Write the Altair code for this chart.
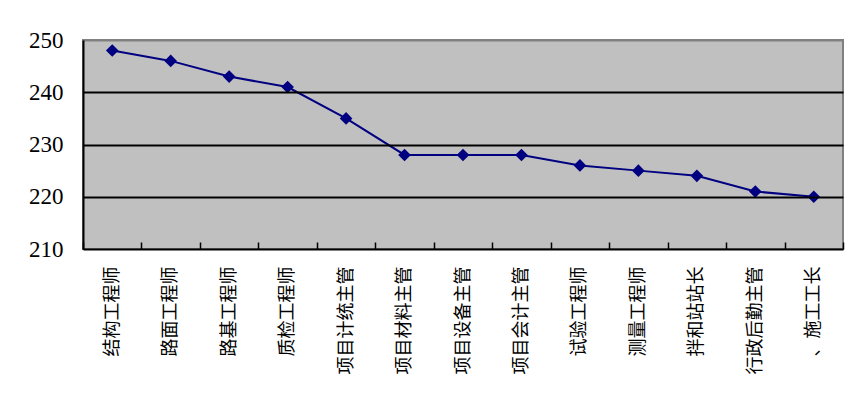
import altair as alt
import pandas as pd

categories = ["结构工程师", "路面工程师", "路基工程师", "质检工程师", "项目计统主管",
              "项目材料主管", "项目设备主管", "项目会计主管", "试验工程师", "测量工程师",
              "拌和站站长", "行政后勤主管", "、施工工长"]
values = [248, 246, 243, 241, 235, 228, 228, 228, 226, 225, 224, 221, 220]
y_ticks = [210, 220, 230, 240, 250]

df = pd.DataFrame({"cat": categories, "val": values})

x_enc = alt.X(
    "cat:N", sort=categories, bandPosition=0.5,
    scale=alt.Scale(type="band", paddingInner=0, paddingOuter=0),
    axis=alt.Axis(
        title=None, labelAngle=270, labelFont="Noto Sans CJK SC", labelFontSize=18,
        labelColor="black", tickBand="extent", tickColor="black", tickSize=7,
        tickWidth=1.5, offset=-7, labelPadding=17, domain=False, grid=False,
        labelOverlap=False, labelLimit=200,
    ),
)
y_enc = alt.Y(
    "val:Q",
    scale=alt.Scale(domain=[210, 250], nice=False, zero=False),
    axis=alt.Axis(
        title=None, values=y_ticks, labelFont="Liberation Serif", labelFontSize=23,
        labelColor="black", labelPadding=20, ticks=False, domainColor="black",
        domainWidth=2, grid=True, gridWidth=2,
        gridColor={"condition": {"test": "datum.value === 250", "value": "#808080"}, "value": "black"},
        zindex=1,
    ),
)

line = alt.Chart(df).mark_line(color="#000080", strokeWidth=2).encode(x=x_enc, y=y_enc)
pts = alt.Chart(df).mark_point(shape="diamond", filled=True, size=160, color="#000080", opacity=1).encode(x=x_enc, y=y_enc)

chart = (line + pts).properties(
    width=760, height=209,
    autosize=alt.AutoSizeParams(type="none"),
    padding={"left": 75, "top": 32, "right": 16, "bottom": 140},
    background="white",
).configure_view(fill="#C0C0C0", stroke="#808080", strokeWidth=2)

chart.save("out.html", embed_options={"renderer": "svg", "actions": False})
